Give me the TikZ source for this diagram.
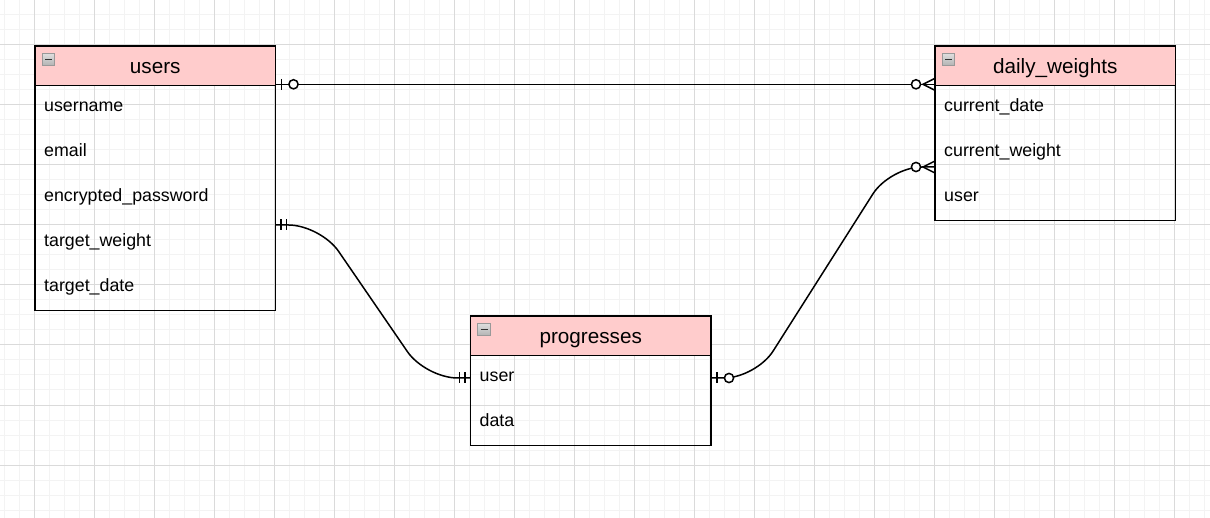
\documentclass[tikz,border=0pt]{standalone}
\usepackage{fontspec}
\setmainfont{Liberation Sans}
\usetikzlibrary{positioning,calc}

\definecolor{hdrpink}{HTML}{FFCCCC}
\definecolor{gridlight}{HTML}{F3F3F3}
\definecolor{griddark}{HTML}{DADADA}

\tikzset{
    minorline/.style={draw=gridlight, line width=1pt},
    majorline/.style={draw=griddark, line width=1pt},
    hdr/.style={draw=black, line width=1.4pt, fill=hdrpink, minimum width=240.5pt, minimum height=39.5pt, inner sep=0pt, outer sep=0pt, anchor=north west},
    tbody/.style={draw=black, line width=1.4pt, minimum width=240.5pt, inner sep=0pt, outer sep=0pt},
    ttl/.style={anchor=base, inner sep=0pt, font=\fontsize{20.7}{24}\selectfont},
    field/.style={anchor=base west, inner sep=0pt, font=\fontsize{17.8}{21}\selectfont},
    btn/.style={draw=gray!80, top color=gray!25, bottom color=gray!60, minimum size=12.5pt, inner sep=0pt, line width=0.8pt},
    rel/.style={draw=black, line width=1.5pt}
}

% crow's foot ends, drawn outward from a port
\newcommand{\markzeroone}[2]{
    \begin{scope}[shift={(#1)}, xscale=#2]
        \draw[rel] (6,-5.5) -- (6,5.5);
        \draw[rel, fill=white] (18,0) circle (4.6);
    \end{scope}
}
\newcommand{\markoneone}[2]{
    \begin{scope}[shift={(#1)}, xscale=#2]
        \draw[rel] (5.5,-5.5) -- (5.5,5.5);
        \draw[rel] (11,-5.5) -- (11,5.5);
    \end{scope}
}
\newcommand{\markzeromany}[2]{
    \begin{scope}[shift={(#1)}, xscale=#2]
        \draw[rel] (0,-6) -- (12,0) -- (0,6);
        \draw[rel, fill=white] (19,0) circle (4.6);
    \end{scope}
}

\begin{document}
\begin{tikzpicture}[x=1pt, y=-1pt]

\useasboundingbox (0,0) rectangle (1210,518);

% Background grid
\foreach \x in {4,19,...,1204} \draw[minorline] (\x,0) -- (\x,518);
\foreach \y in {0,15,...,510} \draw[minorline] (0,\y) -- (1210,\y);
\foreach \x in {34,94,...,1174} \draw[majorline] (\x,0) -- (\x,518);
\foreach \y in {45,105,...,465} \draw[majorline] (0,\y) -- (1210,\y);

% users
\node[hdr] (users) at (35,46) {};
\node[tbody, minimum height=225pt, below=0pt of users] (users-body) {};
\node[ttl] (users-title) at ($(users.north)+(0,28)$) {users};
\node[btn] (users-btn) at ($(users.north west)+(13.5,13.5)$) {};
\draw[line width=1.8pt, black!80] ($(users-btn.center)+(-3.5,0)$) -- ($(users-btn.center)+(3.5,0)$);
\foreach \f [count=\i] in {username, email, encrypted\_password, target\_weight, target\_date}
    \node[field] (users-f\i) at ($(users-body.north west)+(9,{26+45*(\i-1)})$) {\f};

% daily_weights
\node[hdr] (dw) at (935,46) {};
\node[tbody, minimum height=135pt, below=0pt of dw] (dw-body) {};
\node[ttl] (dw-title) at ($(dw.north)+(0,28)$) {daily\_weights};
\node[btn] (dw-btn) at ($(dw.north west)+(13.5,13.5)$) {};
\draw[line width=1.8pt, black!80] ($(dw-btn.center)+(-3.5,0)$) -- ($(dw-btn.center)+(3.5,0)$);
\foreach \f [count=\i] in {current\_date, current\_weight, user}
    \node[field] (dw-f\i) at ($(dw-body.north west)+(9,{26+45*(\i-1)})$) {\f};

% progresses
\node[hdr] (pg) at (470.5,316) {};
\node[tbody, minimum height=90pt, below=0pt of pg] (pg-body) {};
\node[ttl] (pg-title) at ($(pg.north)+(0,28)$) {progresses};
\node[btn] (pg-btn) at ($(pg.north west)+(13.5,13.5)$) {};
\draw[line width=1.8pt, black!80] ($(pg-btn.center)+(-3.5,0)$) -- ($(pg-btn.center)+(3.5,0)$);
\foreach \f [count=\i] in {user, data}
    \node[field] (pg-f\i) at ($(pg-body.north west)+(9,{26+45*(\i-1)})$) {\f};

% Ports
\coordinate (users-p1) at ($(users.south east)+(0,-1.2)$);
\coordinate (users-p2) at ($(users-body.north east)+(0,139.5)$);
\coordinate (dw-p1) at ($(dw.south west)+(0,-1.2)$);
\coordinate (dw-p2) at ($(dw-body.north west)+(0,81.5)$);
\coordinate (pg-p1) at ($(pg-body.north west)+(0,22.5)$);
\coordinate (pg-p2) at ($(pg-body.north east)+(0,22.5)$);

% Relations
\draw[rel] (users-p1) -- (dw-p1);
\draw[rel, rounded corners=32pt] (users-p2) -- ++(45,0) -- ($(pg-p1)+(-45,0)$) -- (pg-p1);
\draw[rel, rounded corners=32pt] (pg-p2) -- ++(45,0) -- ($(dw-p2)+(-45,0)$) -- (dw-p2);

% Relation ends
\markzeroone{users-p1}{1}
\markzeromany{dw-p1}{-1}
\markoneone{users-p2}{1}
\markoneone{pg-p1}{-1}
\markzeroone{pg-p2}{1}
\markzeromany{dw-p2}{-1}

\end{tikzpicture}
\end{document}
